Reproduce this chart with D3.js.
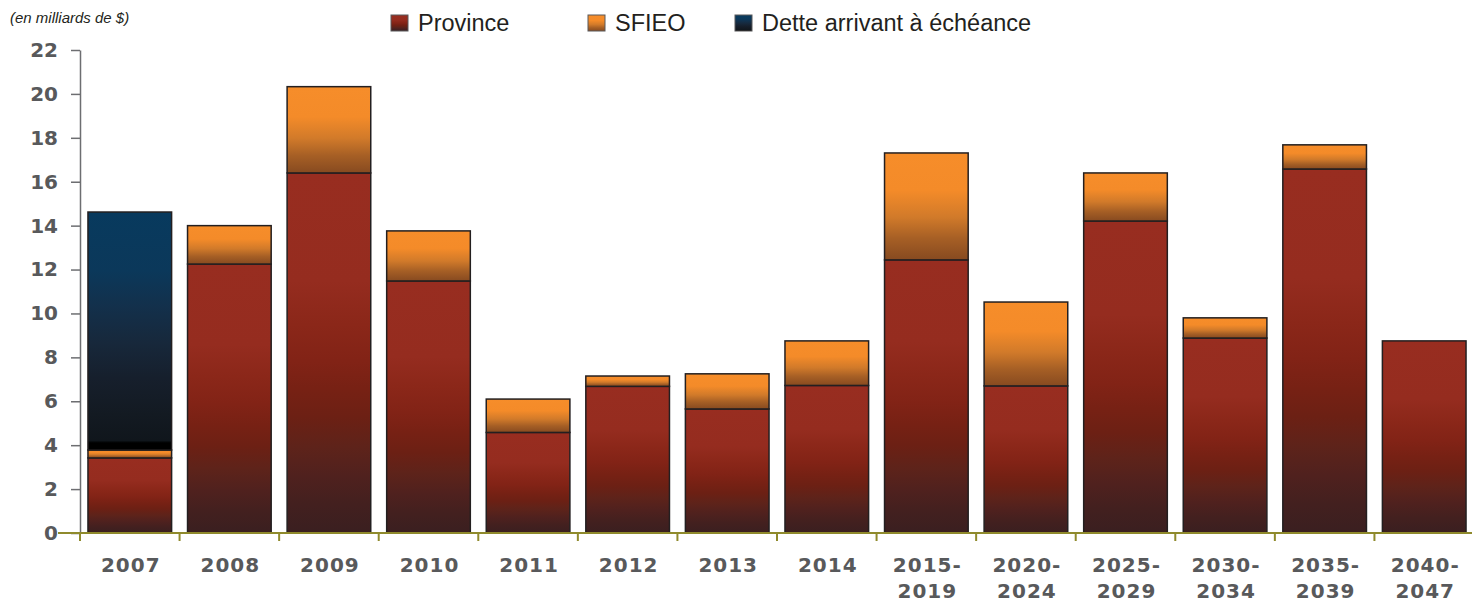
<!DOCTYPE html>
<html>
<head>
<meta charset="utf-8">
<script src="https://cdn.jsdelivr.net/npm/d3@7"></script>
<style>
  body { margin: 0; background: #fff; }
  svg { display: block; font-family: "Liberation Sans", Arial, sans-serif; }
</style>
</head>
<body>
<svg id="chart"></svg>
<script>
const categories = ['2007', '2008', '2009', '2010', '2011', '2012', '2013', '2014',
  '2015-2019', '2020-2024', '2025-2029', '2030-2034', '2035-2039', '2040-2047'];
const province = [3.42, 12.25, 16.4, 11.48, 4.58, 6.68, 5.65, 6.72, 12.44, 6.7, 14.21, 8.88, 16.58, 8.75];
const sfieo = [0.36, 1.75, 3.93, 2.28, 1.52, 0.47, 1.6, 2.03, 4.87, 3.82, 2.19, 0.92, 1.1, 0];
const dette = [10.84, 0, 0, 0, 0, 0, 0, 0, 0, 0, 0, 0, 0, 0];
const yTicks = [0, 2, 4, 6, 8, 10, 12, 14, 16, 18, 20, 22];
const seriesNames = ['Province', 'SFIEO', 'Dette arrivant à échéance'];

const width = 1472, height = 603;
const margin = { top: 50, right: 0, bottom: 70, left: 80 };
const tickFont = '"DejaVu Sans", Verdana, sans-serif';

const svg = d3.select('#chart')
  .attr('width', width)
  .attr('height', height);

// gradients (stepped look comes from many stops)
const defs = svg.append('defs');
function gradient(id, stops) {
  const g = defs.append('linearGradient')
    .attr('id', id)
    .attr('x1', 0).attr('y1', 0).attr('x2', 0).attr('y2', 1);
  stops.forEach(([o, c]) => g.append('stop').attr('offset', o).attr('stop-color', c));
}
gradient('g-province', [
  [0, '#982d20'], [0.3, '#952c1f'], [0.42, '#8b2719'], [0.52, '#822316'],
  [0.6, '#772114'], [0.68, '#6c2014'], [0.76, '#5e231a'], [0.84, '#50211e'],
  [0.92, '#43201f'], [1, '#3a1f20']
]);
gradient('g-sfieo', [
  [0, '#f68d2a'], [0.35, '#f48b29'], [0.6, '#d17a2a'], [0.8, '#a65f25'], [1, '#874a20']
]);
gradient('g-dette', [
  [0, '#083a5e'], [0.25, '#0b385a'], [0.4, '#13304b'], [0.55, '#17283b'],
  [0.7, '#161f2c'], [0.85, '#131a22'], [0.96, '#10161c'], [0.97, '#000000'], [1, '#000000']
]);
const fills = ['url(#g-province)', 'url(#g-sfieo)', 'url(#g-dette)'];

const x = d3.scaleBand()
  .domain(categories)
  .range([margin.left, width + 2])
  .paddingInner(0.16)
  .paddingOuter(0.08);

const y = d3.scaleLinear()
  .domain([0, 22])
  .range([height - margin.bottom, margin.top]);

const data = categories.map((c, i) => ({ cat: c, Province: province[i], SFIEO: sfieo[i], Dette: dette[i] }));
const stack = d3.stack().keys(['Province', 'SFIEO', 'Dette']);
const series = stack(data);

// bars
series.forEach((s, k) => {
  svg.append('g')
    .selectAll('rect')
    .data(s.filter(d => d[1] - d[0] > 0))
    .join('rect')
    .attr('x', d => x(d.data.cat))
    .attr('y', d => y(d[1]))
    .attr('width', x.bandwidth())
    .attr('height', d => y(d[0]) - y(d[1]))
    .attr('fill', fills[k])
    .attr('stroke', '#231f20')
    .attr('stroke-width', 1.5);
});

// y axis
const yAxis = svg.append('g')
  .attr('transform', `translate(${margin.left},0)`)
  .call(d3.axisLeft(y).tickValues(yTicks).tickSize(9).tickPadding(13).tickSizeOuter(0));
yAxis.select('.domain').attr('stroke', '#6d6e71').attr('stroke-width', 1.5);
yAxis.selectAll('line').attr('stroke', '#6d6e71').attr('stroke-width', 1.5);
yAxis.selectAll('text')
  .attr('font-size', 20)
  .attr('font-weight', 'bold')
  .attr('fill', '#58595b')
  .attr('font-family', tickFont);

// x axis
const x0 = height - margin.bottom;
const bounds = categories.map(c => x(c) - x.step() * x.paddingInner() / 2);
svg.append('line')
  .attr('x1', margin.left - 22).attr('x2', width)
  .attr('y1', x0).attr('y2', x0)
  .attr('stroke', '#8f8a2c').attr('stroke-width', 2);
svg.append('g')
  .selectAll('line')
  .data(bounds)
  .join('line')
  .attr('x1', d => d).attr('x2', d => d)
  .attr('y1', x0).attr('y2', x0 + 8)
  .attr('stroke', '#8f8a2c').attr('stroke-width', 2);

const xl = svg.append('g')
  .selectAll('text')
  .data(categories)
  .join('text')
  .attr('y', x0 + 39)
  .attr('text-anchor', 'middle')
  .attr('font-size', 20)
  .attr('font-weight', 'bold')
  .attr('letter-spacing', 1)
  .attr('font-family', tickFont)
  .attr('fill', '#58595b');
xl.each(function (d) {
  const parts = d.includes('-') ? [d.split('-')[0] + '-', d.split('-')[1]] : [d];
  d3.select(this).selectAll('tspan')
    .data(parts)
    .join('tspan')
    .attr('x', x(d) + x.bandwidth() / 2 + 1)
    .attr('dy', (p, i) => i === 0 ? 0 : 26)
    .text(p => p);
});

// unit label
svg.append('text')
  .attr('x', 10).attr('y', 23)
  .attr('font-size', 15)
  .attr('font-style', 'italic')
  .attr('fill', '#231f20')
  .text('(en milliards de $)');

// legend
const legendX = [391, 588, 735];
const legend = svg.append('g');
seriesNames.forEach((name, i) => {
  legend.append('rect')
    .attr('x', legendX[i]).attr('y', 15)
    .attr('width', 17).attr('height', 16)
    .attr('fill', fills[i])
    .attr('stroke', '#58595b').attr('stroke-width', 1);
  legend.append('text')
    .attr('x', legendX[i] + 27).attr('y', 31)
    .attr('font-size', 23.5)
    .attr('fill', '#231f20')
    .text(name);
});
</script>
</body>
</html>
